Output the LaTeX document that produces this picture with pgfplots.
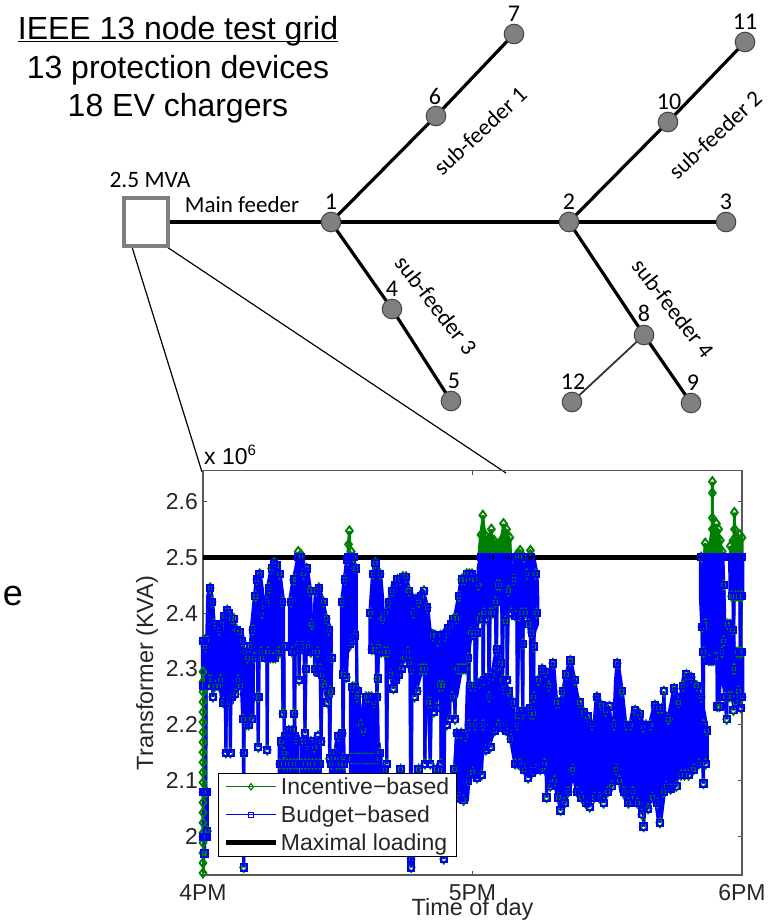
\documentclass[border=0pt]{standalone}
\usepackage{pgfplots}
\usepackage{pgfplotstable}
\usepackage{fontspec}
\pgfplotsset{compat=1.18}
\setmainfont{Liberation Sans}
\newfontfamily\calib{Carlito}
\definecolor{mblue}{RGB}{0,0,255}
\definecolor{mgreen}{RGB}{0,128,0}
\definecolor{nodegray}{RGB}{128,128,128}
\definecolor{nodeedge}{RGB}{70,70,70}
\newcommand{\fs}[1]{\fontsize{#1pt}{#1pt}\selectfont}
% Upper band (with the drops towards the lower band): minute after 4PM, budget-based, incentive-based
\pgfplotstableread{
m b g
0.00 2.35 2.35
0.05 2.27 2.27
0.10 2.35 2.35
0.30 2.27 2.27
0.45 2.34 2.34
0.60 2.08 2.08
0.75 2.35 2.35
0.95 2.27 2.27
1.10 2.35 2.35
1.30 2.28 2.28
1.60 2.445 2.445
1.80 2.28 2.28
2.00 2.42 2.42
2.20 2.25 2.25
2.40 2.38 2.38
2.80 2.27 2.27
3.00 2.375 2.375
3.40 2.27 2.27
3.60 2.37 2.37
3.90 2.28 2.28
4.20 2.38 2.38
4.50 2.24 2.24
4.80 2.395 2.395
5.10 2.15 2.15
5.40 2.405 2.405
5.60 2.24 2.24
5.80 2.40 2.40
6.10 2.15 2.15
6.30 2.39 2.39
6.50 2.25 2.25
6.90 2.39 2.39
7.20 2.255 2.255
7.50 2.37 2.37
7.80 2.28 2.28
8.10 2.365 2.365
8.40 2.27 2.27
8.70 2.35 2.35
9.00 2.21 2.21
9.05 1.945 1.945
9.10 2.15 2.15
9.30 2.33 2.33
9.60 2.20 2.20
9.90 2.32 2.32
10.2 2.20 2.20
10.5 2.34 2.34
10.8 2.21 2.21
11.1 2.37 2.37
11.4 2.32 2.32
11.7 2.43 2.43
12.0 2.46 2.46
12.2 2.25 2.25
12.3 2.16 2.16
12.4 2.25 2.25
12.6 2.47 2.47
12.9 2.33 2.33
13.1 2.40 2.40
13.3 nan nan
13.6 2.41 2.41
13.9 2.32 2.32
14.2 2.42 2.42
14.3 2.155 2.155
14.4 2.33 2.33
14.7 2.445 2.445
15.0 2.32 2.32
15.3 2.48 2.48
15.6 2.32 2.32
15.8 2.49 2.49
16.1 2.32 2.32
16.4 2.485 2.485
16.7 2.33 2.33
17.0 2.47 2.47
17.3 2.33 2.33
17.6 2.42 2.42
17.8 2.22 2.22
18.0 2.34 2.34
18.1 2.15 2.15
18.2 nan nan
19.6 2.42 2.42
19.9 2.33 2.33
20.2 2.46 2.46
20.3 2.22 2.22
20.4 2.18 2.18
20.6 2.46 2.46
20.9 2.34 2.34
21.2 2.50 2.51
21.4 2.28 2.28
21.8 2.50 2.505
22.1 2.34 2.34
22.4 2.47 2.47
22.7 2.185 2.185
22.9 2.30 2.30
23.1 2.48 2.48
23.4 2.34 2.34
23.7 2.44 2.44
24.0 2.33 2.33
24.2 2.38 2.38
24.3 nan nan
25.0 2.30 2.30
25.2 2.44 2.44
25.5 2.33 2.33
25.8 2.445 2.445
26.1 2.30 2.30
26.3 2.17 2.17
26.5 2.29 2.29
26.8 2.42 2.42
27.1 2.27 2.27
27.4 2.39 2.39
27.7 2.24 2.24
28.0 2.37 2.37
28.2 2.14 2.14
28.4 2.26 2.26
28.7 2.32 2.32
28.8 nan nan
31.0 2.42 2.42
31.2 2.14 2.14
31.3 2.29 2.29
31.6 2.46 2.46
31.9 2.285 2.285
32.2 2.495 2.495
32.4 2.50 2.523
32.6 2.50 2.547
32.8 2.345 2.345
33.0 2.50 2.51
33.3 2.35 2.35
33.5 2.50 2.50
33.8 2.36 2.36
34.0 2.48 2.48
34.3 2.25 2.25
34.4 nan nan
37.3 2.40 2.40
37.6 2.335 2.335
37.9 2.47 2.47
38.2 2.335 2.335
38.4 2.49 2.49
38.7 2.25 2.25
38.9 2.283 2.283
39.1 2.34 2.34
39.4 2.47 2.47
39.7 2.33 2.33
40.0 2.39 2.39
40.4 2.33 2.33
40.7 2.40 2.40
40.9 2.13 2.13
41.1 2.33 2.33
41.4 2.42 2.42
41.8 2.29 2.29
42.1 2.44 2.44
42.4 2.265 2.265
42.7 2.45 2.45
43.0 2.28 2.28
43.3 2.46 2.46
43.6 2.29 2.29
43.9 2.46 2.46
44.2 2.30 2.30
44.5 2.465 2.465
44.9 2.32 2.32
45.2 2.465 2.465
45.6 2.33 2.33
45.8 2.44 2.44
46.1 2.31 2.31
46.3 1.96 1.96
46.35 1.945 1.945
46.5 2.30 2.30
46.8 2.40 2.40
47.1 2.25 2.25
47.4 2.425 2.425
47.7 2.26 2.26
48.0 2.42 2.42
48.3 2.30 2.30
48.6 2.43 2.43
48.9 2.30 2.30
49.2 2.44 2.44
49.4 2.13 2.13
49.6 2.30 2.30
49.9 2.41 2.41
50.2 2.24 2.24
50.6 2.13 2.13
50.8 2.24 2.24
51.1 2.36 2.36
51.4 2.223 2.223
51.7 2.36 2.36
52.0 2.23 2.23
52.3 2.35 2.35
52.6 2.27 2.27
52.9 2.36 2.36
53.0 2.13 2.13
53.3 2.27 2.27
53.6 1.96 1.96
53.9 2.36 2.36
54.3 2.20 2.20
54.6 2.373 2.373
54.9 2.21 2.21
55.2 2.38 2.38
55.5 2.25 2.25
55.8 2.39 2.39
56.1 2.21 2.21
56.4 2.39 2.39
56.7 2.30 2.30
57.0 2.43 2.43
57.3 2.30 2.30
57.6 2.46 2.46
57.9 2.30 2.30
58.2 2.46 2.46
58.4 2.30 2.30
58.7 2.47 2.47
59.0 2.32 2.32
59.2 2.20 2.20
59.3 2.47 2.47
59.6 2.365 2.365
59.9 2.47 2.47
60.2 2.36 2.36
60.5 2.46 2.46
60.6 2.20 2.20
61.0 2.365 2.365
61.3 2.45 2.45
61.6 2.39 2.39
61.9 2.50 2.54
62.1 2.39 2.39
62.3 2.50 2.575
62.35 2.20 2.20
62.5 2.40 2.40
62.8 2.50 2.54
63.1 2.39 2.39
63.4 2.50 2.53
63.7 2.25 2.25
63.9 2.40 2.40
64.2 2.50 2.55
64.5 2.40 2.40
64.8 2.50 2.53
65.1 2.42 2.42
65.3 2.30 2.30
65.5 2.45 2.45
65.8 2.50 2.52
66.1 2.45 2.45
66.4 2.50 2.53
66.7 2.28 2.28
66.9 2.50 2.56
67.3 2.385 2.385
67.6 2.50 2.55
67.7 2.28 2.28
68.0 2.44 2.44
68.3 2.50 2.535
68.6 2.40 2.40
69.2 2.46 2.46
69.5 2.395 2.395
69.9 2.50 2.505
69.95 2.20 2.20
70.3 2.395 2.395
70.6 2.50 2.512
70.9 2.40 2.40
71.2 2.22 2.22
71.25 2.345 2.345
71.4 2.50 2.50
71.8 2.40 2.40
72.1 2.47 2.47
72.5 2.38 2.38
72.9 2.50 2.512
72.95 2.22 2.22
73.2 2.365 2.365
73.6 2.22 2.22
73.65 2.34 2.34
74.0 2.47 2.47
74.3 2.40 2.40
74.4 nan nan
110.9 2.50 2.50
111.1 2.375 2.375
111.4 2.20 2.20
111.45 2.33 2.33
111.6 2.38 2.38
111.8 2.50 2.525
112.0 2.38 2.38
112.3 2.50 2.51
112.6 2.315 2.315
112.9 2.50 2.52
113.1 2.315 2.315
113.4 2.50 2.57
113.4 2.50 2.635
113.4 2.50 2.615
113.4 2.50 2.55
113.6 2.315 2.315
113.9 2.50 2.55
114.1 2.32 2.32
114.3 2.50 2.56
114.5 2.233 2.233
114.8 2.50 2.55
115.0 2.233 2.233
115.2 2.50 2.53
115.5 2.33 2.33
115.6 2.50 2.51
115.9 2.35 2.35
116.0 nan nan
117.4 2.50 2.52
117.7 2.43 2.43
118.0 2.50 2.53
118.1 2.30 2.30
118.3 2.50 2.58
118.35 2.50 2.55
118.6 2.43 2.43
118.9 2.50 2.535
119.2 2.43 2.43
119.5 2.50 2.54
119.6 2.33 2.33
119.8 2.43 2.43
120.0 2.50 2.535
120.0 2.43 2.43
}\upperband
% Lower band
\pgfplotstableread{
m b g
0.05 2.00 2.00
0.10 2.08 2.08
0.20 2.00 2.00
0.30 2.08 2.08
0.35 1.97 1.97
0.45 2.08 2.08
0.55 2.00 2.00
0.65 2.08 2.08
0.75 2.00 2.00
0.85 2.08 2.08
0.95 2.01 2.01
1.00 nan nan
17.1 2.13 2.13
17.5 2.17 2.17
17.9 2.13 2.13
18.3 2.18 2.18
18.7 2.13 2.13
19.1 2.19 2.19
19.5 2.13 2.13
19.9 2.19 2.19
20.3 2.13 2.13
20.7 2.175 2.175
21.0 2.13 2.13
21.1 nan nan
22.0 2.13 2.13
22.4 2.17 2.17
22.8 2.13 2.13
23.2 2.165 2.165
23.6 2.13 2.13
24.0 2.17 2.17
24.4 2.13 2.13
24.8 2.16 2.16
25.2 2.13 2.13
25.6 2.18 2.18
26.0 2.13 2.13
26.1 nan nan
28.6 2.13 2.13
29.0 2.14 2.14
29.4 2.15 2.15
29.8 2.13 2.13
30.2 2.18 2.18
30.6 2.13 2.13
31.0 2.185 2.185
31.3 2.13 2.13
31.4 nan nan
33.0 2.14 2.14
33.3 2.268 2.268
33.6 2.14 2.14
33.9 2.268 2.268
34.2 2.14 2.14
34.5 2.26 2.26
34.8 2.14 2.14
35.1 2.20 2.20
35.4 2.14 2.14
35.7 2.19 2.19
36.0 2.14 2.14
36.3 2.25 2.25
36.6 2.14 2.14
36.9 2.25 2.25
37.2 2.14 2.14
37.5 2.25 2.25
37.8 2.14 2.14
38.1 2.24 2.24
38.4 2.14 2.14
38.7 2.25 2.25
39.0 2.14 2.14
39.3 2.15 2.15
39.7 2.10 2.10
40.5 2.12 2.12
42.0 2.05 2.05
44.0 2.12 2.12
46.0 2.06 2.06
48.0 2.12 2.12
50.0 2.05 2.05
52.0 2.12 2.12
54.0 2.06 2.06
56.0 2.12 2.12
56.5 2.185 2.185
57.0 2.07 2.07
57.5 2.185 2.185
58.0 2.065 2.065
58.5 2.18 2.18
59.0 2.10 2.10
59.5 2.27 2.27
60.0 2.115 2.115
60.5 2.27 2.27
61.0 2.105 2.105
61.5 2.275 2.275
62.0 2.11 2.11
62.5 2.28 2.28
63.0 2.155 2.155
63.5 2.285 2.285
64.0 2.16 2.16
64.5 2.29 2.29
65.0 2.19 2.19
65.4 2.335 2.335
65.8 2.20 2.20
66.2 2.31 2.31
66.6 2.195 2.195
67.0 2.265 2.265
67.5 2.19 2.19
68.0 2.26 2.26
68.5 2.175 2.175
69.0 2.24 2.24
69.5 2.13 2.13
70.0 2.215 2.215
70.5 2.13 2.13
71.0 2.225 2.225
71.5 2.12 2.12
72.0 2.225 2.225
72.4 2.105 2.105
72.8 2.23 2.23
73.2 2.115 2.115
73.6 2.25 2.25
74.1 2.12 2.12
74.7 2.28 2.28
75.1 2.12 2.12
75.5 2.30 2.30
76.0 2.13 2.13
76.3 2.295 2.295
76.5 2.07 2.07
77.0 2.27 2.27
77.3 2.09 2.09
77.9 2.31 2.31
78.3 2.10 2.10
78.7 2.24 2.24
79.1 2.07 2.07
79.3 2.24 2.24
79.6 2.047 2.047
80.1 2.26 2.26
80.5 2.06 2.06
80.9 2.29 2.29
81.3 2.08 2.08
81.8 2.315 2.315
82.3 2.12 2.12
82.8 2.28 2.28
83.3 2.08 2.08
83.8 2.24 2.24
84.3 2.07 2.07
84.7 2.223 2.223
85.2 2.06 2.06
85.6 2.215 2.215
86.1 2.053 2.053
86.6 2.20 2.20
87.1 2.07 2.07
87.7 2.25 2.25
88.2 2.07 2.07
88.7 2.235 2.235
89.2 2.06 2.06
89.6 2.225 2.225
90.1 2.08 2.08
90.5 2.233 2.233
91.0 2.09 2.09
91.5 2.20 2.20
92.0 2.12 2.12
92.2 2.31 2.31
92.7 2.10 2.10
93.2 2.26 2.26
93.7 2.08 2.08
94.2 2.20 2.20
94.7 2.06 2.06
95.2 2.20 2.20
95.7 2.08 2.08
96.2 2.226 2.226
96.7 2.06 2.06
97.2 2.22 2.22
97.7 2.04 2.04
98.0 2.196 2.196
98.1 2.018 2.018
98.6 2.20 2.20
99.1 2.05 2.05
99.6 2.20 2.20
100.1 2.07 2.07
100.6 2.235 2.235
101.1 2.06 2.06
101.4 2.23 2.23
101.7 2.025 2.025
102.2 2.23 2.23
102.5 2.08 2.08
102.6 2.26 2.26
103.1 2.09 2.09
103.6 2.21 2.21
104.1 2.085 2.085
104.9 2.265 2.265
105.4 2.09 2.09
105.9 2.24 2.24
106.4 2.11 2.11
106.9 2.27 2.27
107.2 2.11 2.11
107.6 2.29 2.29
108.1 2.11 2.11
108.7 2.285 2.285
109.2 2.12 2.12
109.9 2.27 2.27
110.4 2.13 2.13
110.9 2.25 2.25
111.4 2.095 2.095
111.5 2.20 2.20
111.9 2.13 2.13
112.1 2.19 2.19
112.3 nan nan
115.9 2.45 2.45
116.2 2.25 2.25
116.6 2.21 2.21
116.8 2.38 2.38
117.1 2.25 2.25
117.3 2.38 2.38
117.7 2.25 2.25
117.9 2.37 2.37
118.1 2.226 2.226
118.3 2.30 2.30
118.6 2.24 2.24
118.9 2.33 2.33
119.2 2.26 2.26
119.5 2.33 2.33
119.8 2.23 2.23
120.0 2.33 2.33
120.0 2.25 2.25
}\lowerband
\pgfplotsset{
 greenser/.style={color=mgreen,line width=3pt,mark=diamond,mark size=4.5pt,mark options={solid,line width=1.9pt}},
 blueser/.style={color=mblue,line width=3.2pt,mark=square,mark size=3.2pt,mark options={solid,line width=1.9pt}},
 envb/.style={fill=mblue,draw=mblue,line width=4.5pt,line join=round,no markers,forget plot},
 envg/.style={fill=mgreen,draw=mgreen,line width=3pt,line join=round,no markers,forget plot},
}
\begin{document}
\begin{tikzpicture}[x=1pt,y=1pt]
\useasboundingbox (0,0) rectangle (775pt,922pt);
% --- network diagram, in reference pixel coordinates
\begin{axis}[at={(0pt,0pt)},anchor=south west,width=775pt,height=922pt,scale only axis,hide axis,
 xmin=0,xmax=775,ymin=0,ymax=922,y dir=reverse,clip=false]
\addplot[black,line width=3.6pt] coordinates {(170,222)(726,222)};
\addplot[black,line width=3.2pt] coordinates {(331,222)(436,116)(514,34)};
\addplot[black,line width=3.2pt] coordinates {(569,222)(668,122)(745,42)};
\addplot[black,line width=3.2pt] coordinates {(331,222)(392,309)(451,401)};
\addplot[black,line width=3.2pt] coordinates {(569,222)(644,335)(691,403)};
\addplot[black!80,line width=1.8pt] coordinates {(644,335)(572,402)};
\addplot[black,line width=1.2pt] coordinates {(132,247)(202,472)};
\addplot[black,line width=1.2pt] coordinates {(167,247)(506,473)};
\addplot[nodegray,line width=4.6pt] coordinates {(124,198)(168,198)(168,246)(124,246)(124,198)(168,198)};
\addplot[only marks,mark=*,mark size=9.8pt,mark options={fill=nodegray,draw=nodeedge,line width=1pt}] coordinates {
(331,222)(436,116)(514,34)(569,222)(726,222)(668,122)(745,42)(392,309)(451,401)(644,335)(572,402)(691,403)};
\node[font=\fs{32},anchor=base,inner sep=0pt] at (axis cs:178,39.5) {\underline{\smash{IEEE 13 node test grid}}};
\node[font=\fs{32},anchor=base,inner sep=0pt] at (axis cs:178,78) {13 protection devices};
\node[font=\fs{32},anchor=base,inner sep=0pt] at (axis cs:178,116.5) {18 EV chargers};
\node[font=\fs{36},anchor=base,inner sep=0pt] at (axis cs:13,605) {e};
\node[font=\calib\fs{23.5},inner sep=0pt] at (axis cs:150,180) {2.5 MVA};
\node[font=\calib\fs{23},inner sep=0pt] at (axis cs:242,205) {Main feeder};
\foreach \p/\q/\t in {331/202/1,435/96/6,514/14/7,745/22/11,669/102/10,569/202/2,726/202/3,392/289/4,454/381/5,644/313/8,573/382/12,693/383/9}{
 \edef\temp{\noexpand\node[font=\noexpand\calib\noexpand\fs{24},inner sep=0pt] at (axis cs:\p,\q) {\t};}\temp}
\node[font=\calib\fs{23},inner sep=0pt,rotate=43] at (axis cs:480,131) {sub-feeder 1};
\node[font=\calib\fs{23},inner sep=0pt,rotate=43] at (axis cs:715,135) {sub-feeder 2};
\node[font=\calib\fs{23},inner sep=0pt,rotate=-52] at (axis cs:436,305) {sub-feeder 3};
\node[font=\calib\fs{23},inner sep=0pt,rotate=-52] at (axis cs:673,308) {sub-feeder 4};
\node[font=\fs{23},anchor=base west,inner sep=0pt] at (axis cs:204,464) {x 10\raisebox{9pt}{\fs{15}6}};
\end{axis}
% --- transformer loading chart
\begin{axis}[at={(203pt,47pt)},anchor=south west,width=539pt,height=404.3pt,scale only axis,
 xmin=0,xmax=120,ymin=1.9314,ymax=2.6547,
 xtick={0,60,120},xticklabels={4PM,5PM,6PM},
 ytick={2,2.1,2.2,2.3,2.4,2.5,2.6},yticklabels={2,2.1,2.2,2.3,2.4,2.5,2.6},
 tick align=inside,tick pos=both,major tick length=4pt,
 tick style={black!70,line width=0.8pt},
 axis line style={black!65,line width=1.1pt},
 tick label style={font=\fs{23},text=black!85},
 yticklabel style={inner sep=0pt,xshift=-5pt},
 xticklabel style={inner sep=0pt,yshift=-9pt},
 ylabel={Transformer (KVA)},xlabel={Time of day},
 label style={font=\fs{23.5},text=black!85},
 ylabel style={at={(axis description cs:-0.104,0.5)},anchor=center},
 xlabel style={at={(axis description cs:0.5,-0.084)},anchor=center},
 unbounded coords=jump,clip=false,
 legend cell align=left,
 legend style={at={(0.0278,0.0445)},anchor=south west,font=\fs{23},text=black!85,draw=black,line width=1.2pt,
  fill=white,inner xsep=5pt,inner ysep=2pt,row sep=4.6pt,nodes={inner sep=2.6pt}},
 legend image code/.code={\draw[mark repeat=2,mark phase=2,#1] plot coordinates {(0pt,0pt)(25pt,0pt)(50pt,0pt)};},
]
\addplot[greenser,forget plot] coordinates {(0,1.935)(0,1.953)(0,1.971)(0,1.989)(0,2.007)(0,2.025)(0,2.043)(0,2.061)(0,2.079)(0,2.097)(0,2.115)(0,2.133)(0,2.151)(0,2.169)(0,2.187)(0,2.205)(0,2.223)(0,2.241)(0,2.259)(0,2.277)(0,2.295)};
\addplot[greenser,forget plot] table[x=m,y=g] {\lowerband};
\addplot[greenser,legend image post style={line width=1.1pt,mark options={solid,line width=1.1pt},mark size=3.2pt}] table[x=m,y=g] {\upperband};
\addlegendentry{Incentive−based}
% solid parts of the incentive-based trace above the limit
\addplot[envg] coordinates {(61.4,2.5)(61.7,2.53)(62.3,2.57)(62.9,2.53)(63.3,2.53)(64,2.545)(64.8,2.53)(65.6,2.52)(66.3,2.53)(66.9,2.555)(67.6,2.545)(68.3,2.53)(68.5,2.5)} --cycle;
\addplot[envg] coordinates {(69.5,2.5)(70,2.512)(70.6,2.512)(71.2,2.5)} --cycle;
\addplot[envg] coordinates {(72.5,2.5)(72.9,2.512)(73.4,2.5)} --cycle;
\addplot[envg] coordinates {(111.6,2.5)(111.8,2.52)(112.4,2.51)(113,2.53)(113.3,2.55)(113.9,2.55)(114.5,2.55)(115.1,2.53)(115.6,2.5)} --cycle;
\addplot[envg] coordinates {(117.5,2.5)(117.9,2.53)(118.9,2.535)(119.7,2.53)(120,2.5)} --cycle;
% solid parts of the budget-based trace, as read from the envelope of the dense oscillation
\addplot[envb] coordinates {(0,2.355)(1.0,2.36)(1.2,2.43)(1.6,2.445)(2.0,2.42)(2.4,2.375)(4.0,2.375)(4.3,2.39)(5.4,2.405)(6.0,2.40)(6.5,2.385)(8.7,2.36)(9.0,2.33)(10.6,2.33)(11.0,2.38)(11.6,2.43)(12.0,2.46)(12.6,2.47)(13.1,2.44)(13.1,2.33)(11.1,2.32)(11,2.22)(10,2.20)(9,2.21)(8.7,2.27)(6.6,2.27)(6.4,2.24)(4.3,2.24)(4,2.27)(2.4,2.27)(2.0,2.27)(1,2.28)(0,2.27)} --cycle;
\addplot[envb] coordinates {(13.6,2.41)(14.4,2.44)(15.3,2.48)(15.8,2.49)(16.6,2.485)(17.0,2.47)(17.8,2.42)(17.8,2.33)(13.6,2.32)} --cycle;
\addplot[envb] coordinates {(19.4,2.42)(20.2,2.46)(20.8,2.48)(21.2,2.5)(22.2,2.5)(22.4,2.47)(23.1,2.48)(23.8,2.44)(24.0,2.38)(24,2.33)(19.4,2.33)} --cycle;
\addplot[envb] coordinates {(24.9,2.40)(25.2,2.44)(25.8,2.445)(26.6,2.42)(27.4,2.39)(28.4,2.37)(28.4,2.25)(27.6,2.25)(26.6,2.29)(25,2.29)} --cycle;
\addplot[envb] coordinates {(31,2.42)(31.6,2.46)(32.2,2.5)(33.2,2.5)(34,2.48)(34,2.35)(33.2,2.345)(32.0,2.33)(31.8,2.285)(31.0,2.29)} --cycle;
\addplot[envb] coordinates {(37.3,2.40)(37.9,2.47)(38.4,2.49)(39.4,2.47)(39.9,2.42)(39.9,2.33)(37.3,2.335)} --cycle;
\addplot[envb] coordinates {(40,2.39)(40.5,2.40)(41.4,2.42)(42.4,2.45)(43.3,2.46)(45.2,2.465)(45.8,2.44)(47.2,2.425)(48.9,2.44)(49.9,2.41)(50.4,2.37)(52.9,2.36)(54.3,2.373)(56.1,2.39)(56.8,2.42)(57.6,2.46)(59.5,2.47)(61,2.465)(61,2.365)(59.5,2.36)(58.6,2.30)(57.4,2.30)(56.3,2.25)(54.5,2.25)(53.2,2.27)(51.7,2.24)(50.2,2.25)(49,2.31)(47.3,2.26)(46,2.32)(45,2.32)(44.5,2.315)(43.5,2.29)(42.4,2.27)(41.5,2.30)(40.6,2.33)(40,2.33)} --cycle;
\addplot[envb] coordinates {(61.4,2.48)(61.9,2.5)(68.4,2.5)(68.5,2.47)(68.5,2.44)(68,2.44)(67.3,2.385)(66.5,2.42)(65.8,2.45)(64.8,2.42)(63.8,2.40)(62,2.39)(61.4,2.39)} --cycle;
\addplot[envb] coordinates {(69.2,2.48)(69.6,2.5)(71.4,2.5)(71.8,2.48)(71.8,2.42)(71,2.395)(69.5,2.395)(69.2,2.44)} --cycle;
\addplot[envb] coordinates {(72.1,2.48)(72.5,2.5)(73.5,2.5)(74.2,2.47)(74.4,2.42)(74.3,2.38)(73.6,2.365)(72.8,2.365)(72.1,2.42)} --cycle;
\addplot[envb] coordinates {(110.9,2.5)(115.6,2.5)(115.9,2.42)(116.2,2.33)(115.9,2.27)(115.1,2.31)(113.7,2.315)(112,2.315)(111.9,2.37)(111.2,2.375)(110.9,2.43)} --cycle;
\addplot[envb] coordinates {(117.4,2.5)(120,2.5)(120,2.43)(117.5,2.43)} --cycle;
\addplot[envb] coordinates {(115.7,2.40)(116.2,2.30)(117.0,2.36)(117.4,2.38)(118,2.36)(118.3,2.30)(119,2.33)(120,2.33)(120,2.25)(119.5,2.25)(118.6,2.24)(117.8,2.25)(117.0,2.25)(116.2,2.26)(115.7,2.31)} --cycle;
\addplot[envb] coordinates {(0.3,2.08)(0.8,2.08)(0.8,2.0)(0.3,2.0)} --cycle;
\addplot[envb] coordinates {(17.1,2.17)(18,2.18)(19.2,2.19)(20.2,2.19)(21,2.17)(21,2.1)(17.1,2.1)} --cycle;
\addplot[envb] coordinates {(22,2.17)(26,2.17)(26,2.1)(22,2.1)} --cycle;
\addplot[envb] coordinates {(28.5,2.14)(29.5,2.15)(30,2.18)(31.2,2.185)(31.3,2.1)(28.5,2.1)} --cycle;
\addplot[envb] coordinates {(33,2.268)(34.5,2.26)(35,2.21)(35.5,2.19)(36,2.25)(38.7,2.25)(38.9,2.14)(39.5,2.15)(39.5,2.1)(33,2.1)} --cycle;
\addplot[envb] coordinates {(56.5,2.185)(58.7,2.185)(59,2.27)(61.4,2.275)(63.2,2.285)(64.7,2.30)(65.4,2.335)(66.2,2.31)(66.9,2.265)(68.4,2.26)(69.2,2.215)(70.5,2.215)(71.3,2.225)(73,2.23)(73.6,2.25)(74.7,2.28)(75.4,2.30)(76.3,2.295)(77,2.27)(77.9,2.31)(78.6,2.24)(79.8,2.24)(80.9,2.29)(81.8,2.315)(82.6,2.28)(83.5,2.24)(84.7,2.223)(86.6,2.20)(87.2,2.20)(87.7,2.25)(88.7,2.235)(90.1,2.233)(91,2.20)(91.6,2.20)(92,2.28)(92.3,2.31)(93.2,2.26)(94,2.20)(95.2,2.20)(95.8,2.226)(97.2,2.22)(98,2.196)(99.5,2.20)(100.6,2.235)(102.2,2.23)(103.6,2.21)(104.4,2.24)(104.9,2.265)(106.2,2.24)(107.2,2.29)(108.7,2.285)(109.9,2.27)(110.6,2.25)(111.5,2.22)(112.1,2.19)(112.1,2.135)(111.2,2.13)(110.4,2.13)(109,2.12)(107,2.11)(106,2.12)(105,2.09)(104,2.085)(102.6,2.08)(101.8,2.03)(101.5,2.03)(101,2.06)(100.4,2.075)(99.3,2.06)(98.4,2.045)(97.6,2.045)(96.8,2.06)(95.6,2.08)(94.7,2.06)(94,2.07)(93.2,2.08)(92.4,2.12)(91.4,2.10)(90,2.08)(89.2,2.065)(88,2.07)(86.6,2.07)(85.7,2.055)(84.8,2.06)(83.3,2.08)(82.4,2.12)(81.4,2.08)(80.5,2.065)(79.6,2.05)(79.2,2.07)(78.2,2.10)(77.2,2.09)(76.2,2.12)(74,2.12)(72.5,2.11)(71,2.12)(69.6,2.13)(68.6,2.175)(67.5,2.19)(66,2.197)(64.8,2.19)(63.2,2.157)(62.3,2.155)(61.4,2.11)(60.5,2.105)(59.2,2.115)(58.7,2.065)(56.5,2.065)} --cycle;
\addplot[blueser,forget plot] table[x=m,y=b] {\lowerband};
\addplot[blueser,legend image post style={line width=1.1pt,mark options={solid,line width=1.1pt},mark size=2.6pt}] table[x=m,y=b] {\upperband};
\addlegendentry{Budget−based}
\addplot[black,line width=4.8pt] coordinates {(0,2.5)(120,2.5)};
\addlegendentry{Maximal loading}
\end{axis}
\end{tikzpicture}
\end{document}
